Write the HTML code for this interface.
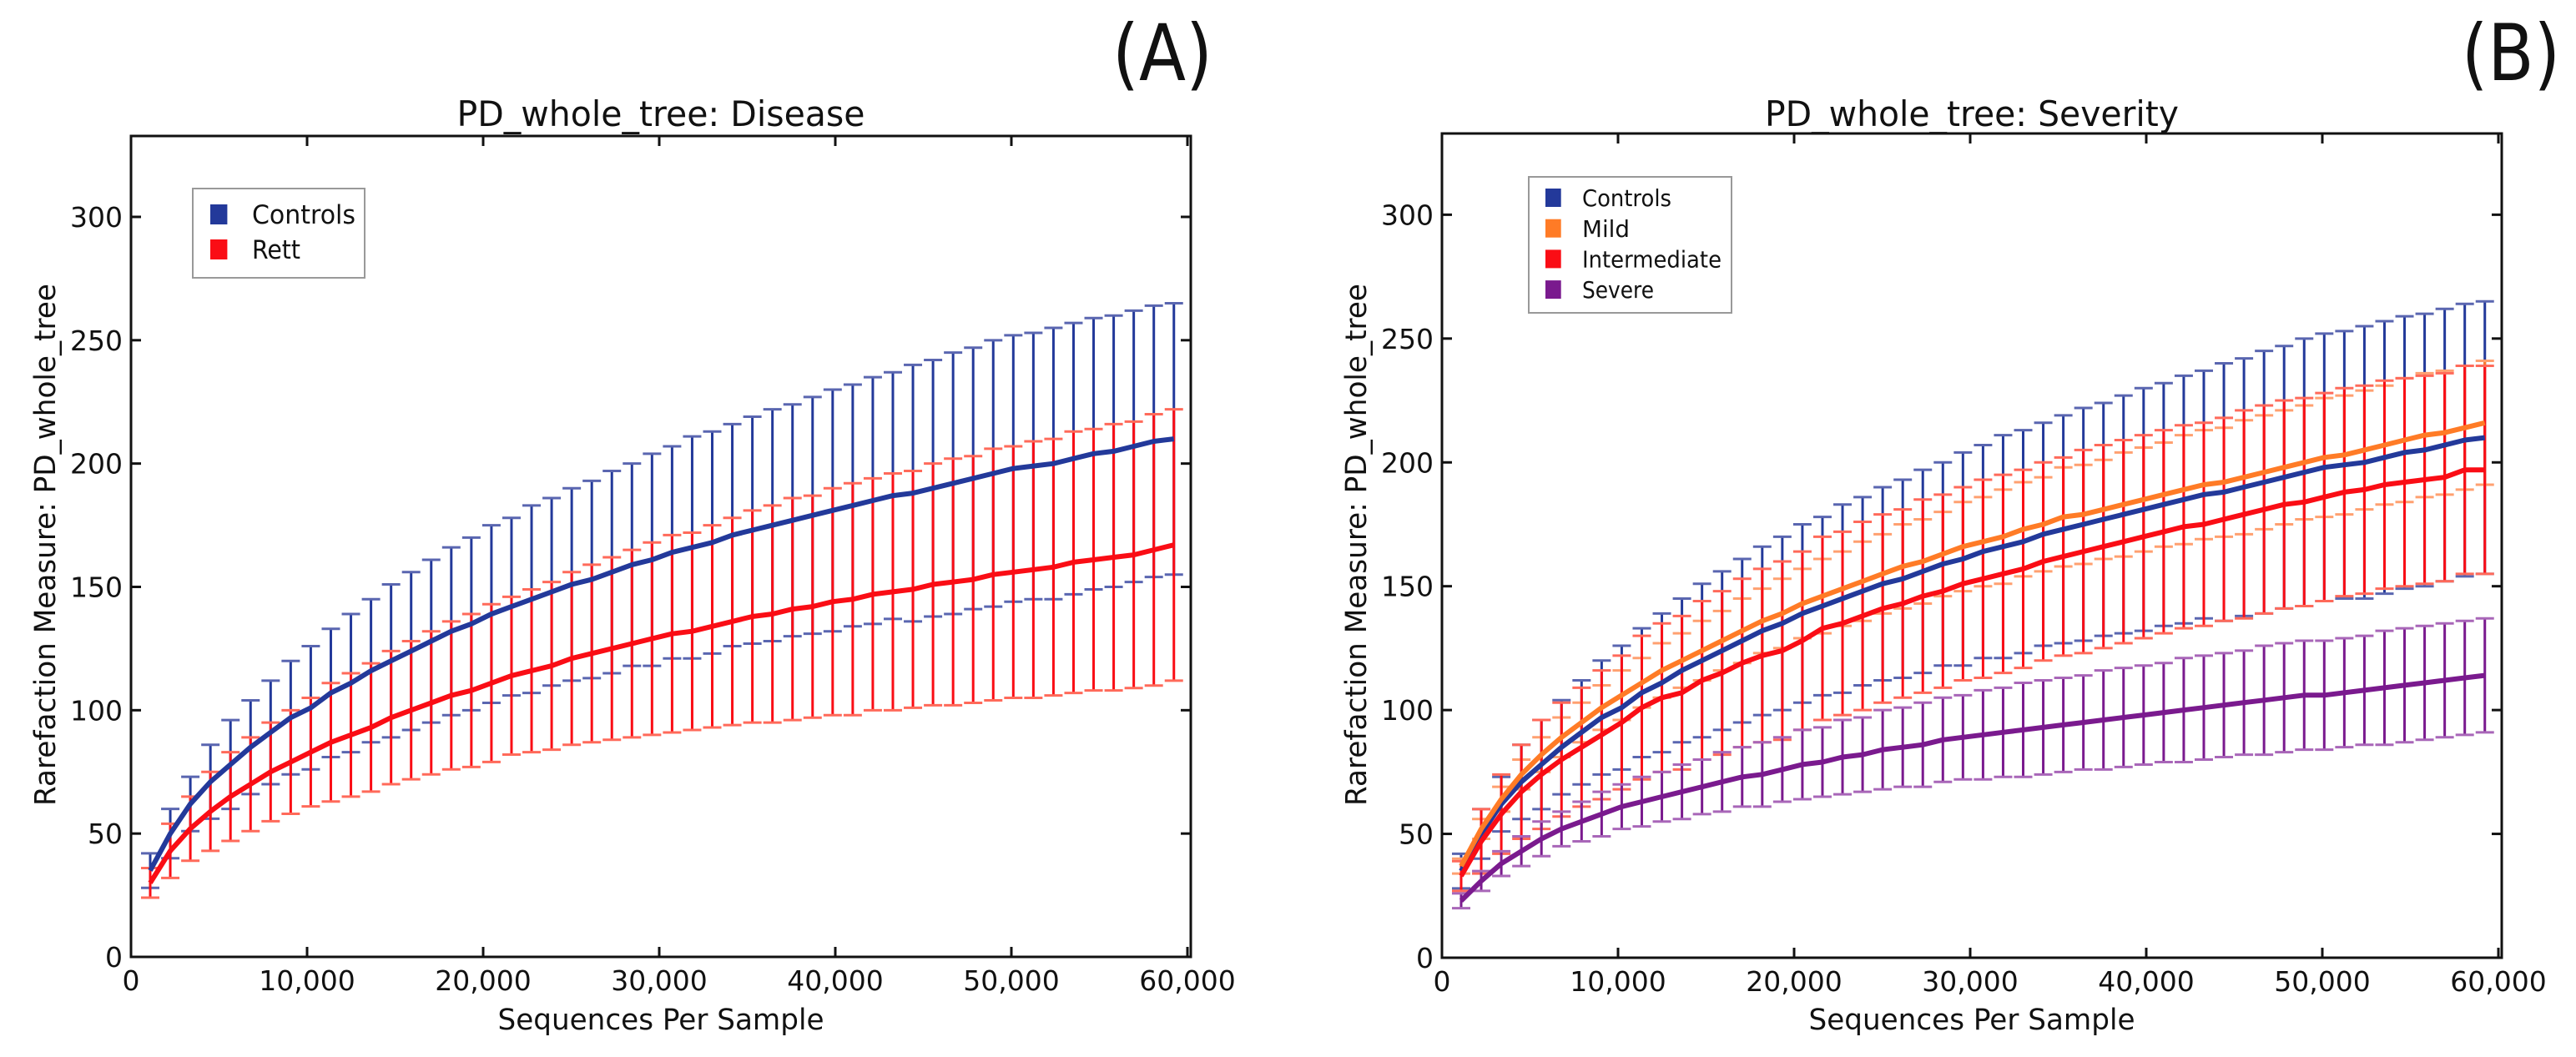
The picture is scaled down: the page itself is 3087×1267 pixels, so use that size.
<!DOCTYPE html>
<html><head><meta charset="utf-8">
<style>
html,body{margin:0;padding:0;background:#fff;}
svg{display:block;}
text{font-family:"DejaVu Sans","Liberation Sans",sans-serif;fill:#111;}
</style></head>
<body>
<svg id="fig" width="3087" height="1267" viewBox="0 0 3087 1267" xmlns="http://www.w3.org/2000/svg"></svg>
<script>
const depths = [1090,2230,3370,4510,5650,6790,7930,9070,10210,11350,12490,13630,14770,15910,17050,18190,19330,20470,21610,22750,23890,25030,26170,27310,28450,29590,30730,31870,33010,34150,35290,36430,37570,38710,39850,40990,42130,43270,44410,45550,46690,47830,48970,50110,51250,52390,53530,54670,55810,56950,58090,59230];
const xTicks = [0,10000,20000,30000,40000,50000,60000];
const xTickLabels = ["0","10,000","20,000","30,000","40,000","50,000","60,000"];
const yTicks = [0,50,100,150,200,250,300];
const yTickLabels = ["0","50","100","150","200","250","300"];

const controlsMean = [35,50,62,71,78,85,91,97,101,107,111,116,120,124,128,132,135,139,142,145,148,151,153,156,159,161,164,166,168,171,173,175,177,179,181,183,185,187,188,190,192,194,196,198,199,200,202,204,205,207,209,210];
const controlsSd = [7,10,11,15,18,19,21,23,25,26,28,29,31,32,33,34,35,36,36,38,38,39,40,41,41,43,43,45,45,45,46,47,47,48,49,49,50,50,52,52,53,53,54,54,54,55,55,55,55,55,55,55];
const rettMean = [30,43,52,59,65,70,75,79,83,87,90,93,97,100,103,106,108,111,114,116,118,121,123,125,127,129,131,132,134,136,138,139,141,142,144,145,147,148,149,151,152,153,155,156,157,158,160,161,162,163,165,167];
const rettSd = [6,11,13,16,18,19,20,21,22,24,25,26,27,28,29,30,31,32,32,33,34,35,36,37,38,39,40,40,41,42,43,44,45,45,46,47,47,48,48,49,50,50,51,51,52,52,53,53,54,54,55,55];
const mildMean = [37,52,64,74,82,89,95,101,106,111,116,120,124,128,132,136,139,143,146,149,152,155,158,160,163,166,168,170,173,175,178,179,181,183,185,187,189,191,192,194,196,198,200,202,203,205,207,209,211,212,214,216];
const mildSd = [3,4,5,6,7,8,8,9,10,10,11,11,12,12,13,13,14,14,15,15,16,16,17,17,17,18,18,19,19,19,20,20,20,21,21,21,22,22,22,23,23,23,23,24,24,24,24,25,25,25,25,25];
const interMean = [33,47,58,67,74,80,85,90,95,101,105,107,112,115,119,122,124,128,133,135,138,141,143,146,148,151,153,155,157,160,162,164,166,168,170,172,174,175,177,179,181,183,184,186,188,189,191,192,193,194,197,197];
const interSd = [6,13,16,19,22,23,24,26,27,29,30,31,32,33,34,35,36,36,37,37,38,38,38,39,39,39,40,40,40,40,40,41,41,41,41,41,41,41,41,42,42,42,42,42,42,42,42,42,42,42,42,42];
const severeMean = [23,31,38,43,48,52,55,58,61,63,65,67,69,71,73,74,76,78,79,81,82,84,85,86,88,89,90,91,92,93,94,95,96,97,98,99,100,101,102,103,104,105,106,106,107,108,109,110,111,112,113,114];
const severeSd = [3,4,5,6,7,7,8,9,9,10,10,11,11,12,12,13,13,14,14,15,15,16,16,17,17,17,18,18,19,19,19,19,20,20,20,20,21,21,21,21,22,22,22,22,22,22,23,23,23,23,23,23];

const NS = "http://www.w3.org/2000/svg";
const svg = document.getElementById("fig");
function mk(tag, attrs, parent){
  const e = document.createElementNS(NS, tag);
  for (const k in attrs) e.setAttribute(k, attrs[k]);
  (parent||svg).appendChild(e);
  return e;
}

const XMAX = 60190, YMAX = 332.8;

function drawPanel(p){
  const g = mk("g", {});
  
  
  const sx = v => p.L + (v / XMAX) * (p.R - p.L);
  const sy = v => p.B - (v / YMAX) * (p.B - p.T);

  // error bars
  p.series.forEach(s => {
    const eg = mk("g", {}, g);
    
    
    depths.forEach((d, i) => {
      const x = sx(d), up = s.mean[i] + s.sd[i], lo = s.mean[i] - s.sd[i];
      const bar = mk("line", {x1:x, x2:x, y1:sy(up), y2:sy(lo), stroke:s.color, "stroke-width":3}, eg);
      
      
      [up, lo].forEach(v => {
        const cap = mk("line", {x1:x-11, x2:x+11, y1:sy(v), y2:sy(v), stroke:s.capColor, "stroke-width":3}, eg);
        
        
      });
    });
  });
  // lines
  p.series.forEach(s => {
    const pts = depths.map((d, i) => sx(d).toFixed(1) + "," + sy(s.mean[i]).toFixed(1)).join(" ");
    const pl = mk("polyline", {points:pts, fill:"none", stroke:s.color, "stroke-width":6, "stroke-linejoin":"round"}, g);
    
    
  });
  // frame
  const fr = mk("rect", {x:p.L, y:p.T, width:p.R-p.L, height:p.B-p.T, fill:"none", stroke:"#111", "stroke-width":3}, g);
  
  
  // ticks
  xTicks.forEach((t, i) => {
    const x = sx(t);
    mk("line", {x1:x, x2:x, y1:p.B, y2:p.B-12, stroke:"#111", "stroke-width":3}, g);
    mk("line", {x1:x, x2:x, y1:p.T, y2:p.T+12, stroke:"#111", "stroke-width":3}, g);
    const tl = mk("text", {x:x, y:p.B+40, "font-size":33, "text-anchor":"middle"}, g);
    tl.textContent = xTickLabels[i];
    
    
  });
  yTicks.forEach((t, i) => {
    const y = sy(t);
    mk("line", {x1:p.L, x2:p.L+12, y1:y, y2:y, stroke:"#111", "stroke-width":3}, g);
    mk("line", {x1:p.R, x2:p.R-12, y1:y, y2:y, stroke:"#111", "stroke-width":3}, g);
    const tl = mk("text", {x:p.L-10, y:y+12, "font-size":33, "text-anchor":"end"}, g);
    tl.textContent = yTickLabels[i];
    
    
  });
  // title
  const ti = mk("text", {x:(p.L+p.R)/2, y:151, "font-size":42, "text-anchor":"middle", textLength:p.titleW, lengthAdjust:"spacingAndGlyphs"}, g);
  ti.textContent = p.title;
  
  
  // axis titles
  const xl = mk("text", {x:(p.L+p.R)/2, y:1234, "font-size":35, "text-anchor":"middle", textLength:391, lengthAdjust:"spacingAndGlyphs"}, g);
  xl.textContent = "Sequences Per Sample";
  
  
  const yl = mk("text", {x:0, y:0, "font-size":35, "text-anchor":"middle", textLength:626, lengthAdjust:"spacingAndGlyphs", transform:"translate(" + p.ylx + ",653) rotate(-90)"}, g);
  yl.textContent = "Rarefaction Measure: PD_whole_tree";
  
  
  // panel label
  const pl = mk("text", {x:p.labX, y:96, "font-size":94, textLength:p.labW, lengthAdjust:"spacingAndGlyphs"}, g);
  pl.textContent = p.label;
  
  
  // legend
  const lg = mk("g", {}, g);
  
  
  const lb = p.leg;
  mk("rect", {x:lb.x, y:lb.y, width:lb.w, height:lb.h, fill:"#fff", stroke:"#999", "stroke-width":2}, lg);
  p.series.forEach((s, i) => {
    const cy = lb.first + i * lb.step;
    const sw = mk("rect", {x:lb.mx, y:cy - lb.ms/2, width:lb.ms*0.85, height:lb.ms, fill:s.color}, lg);
    
    
    const tx = mk("text", {x:lb.tx, y:cy + lb.fs*0.36, "font-size":lb.fs, textLength:s.labW, lengthAdjust:"spacingAndGlyphs"}, lg);
    tx.textContent = s.label;
    
    
  });
}

const BLUE = "#23399a", RED = "#fa0d15", ORANGE = "#ff7b26", PURPLE = "#7a1a8e";

drawPanel({
  name:"panel-a-disease", L:157, R:1427, T:163, B:1147, title:"PD_whole_tree: Disease", titleW:489,
  ylx:66, label:"(A)", labX:1333, labW:120,
  leg:{x:231, y:226, w:206, h:107, first:257, step:42, mx:252, ms:24, tx:302, fs:31},
  series:[
    {key:"controls", label:"Controls", labW:124, color:BLUE, capColor:"#5a66b0", mean:controlsMean, sd:controlsSd},
    {key:"rett", label:"Rett", labW:58, color:RED, capColor:"#ff6a5a", mean:rettMean, sd:rettSd}
  ]
});
drawPanel({
  name:"panel-b-severity", L:1728, R:2998, T:160, B:1148, title:"PD_whole_tree: Severity", titleW:496,
  ylx:1637, label:"(B)", labX:2950, labW:118,
  leg:{x:1832, y:212, w:243, h:163, first:237, step:36.7, mx:1852, ms:22, tx:1896, fs:28},
  series:[
    {key:"controls", label:"Controls", labW:107, color:BLUE, capColor:"#5a66b0", mean:controlsMean, sd:controlsSd},
    {key:"mild", label:"Mild", labW:57, color:ORANGE, capColor:"#ffa070", mean:mildMean, sd:mildSd},
    {key:"intermediate", label:"Intermediate", labW:167, color:RED, capColor:"#ff6a5a", mean:interMean, sd:interSd},
    {key:"severe", label:"Severe", labW:86, color:PURPLE, capColor:"#a866b8", mean:severeMean, sd:severeSd}
  ]
});
</script>
</body></html>
